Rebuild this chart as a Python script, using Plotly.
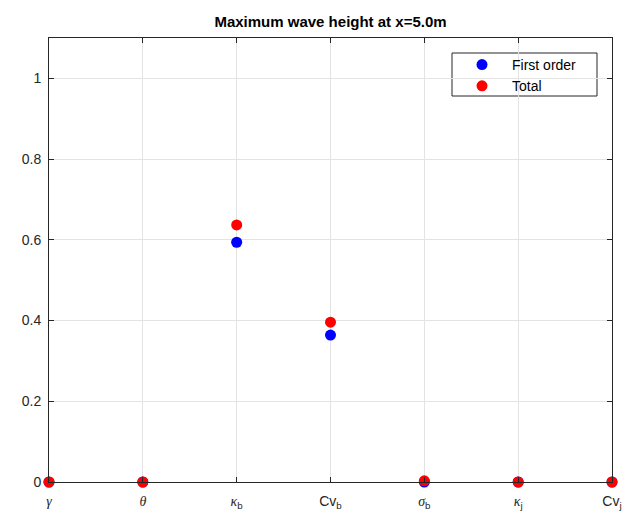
import plotly.graph_objects as go

G = '<span style="font-family:Liberation Serif, Times New Roman, serif"><i>{}</i></span>'
params = [G.format("γ"), G.format("θ"), G.format("κ") + "<sub>b</sub>", "Cv<sub>b</sub>",
          G.format("σ") + "<sub>b</sub>", G.format("κ") + "<sub>j</sub>", "Cv<sub>j</sub>"]
first_order = [0.0, 0.0, 0.594, 0.364, 0.0, 0.0, 0.0]
total = [0.0, 0.0, 0.637, 0.396, 0.003, 0.0, 0.0]
yticks = [0, 0.2, 0.4, 0.6, 0.8, 1]
ylabels = ["0", "0.2", "0.4", "0.6", "0.8", "1"]
xpos = list(range(1, len(params) + 1))

fig = go.Figure()
fig.add_trace(go.Scatter(x=xpos, y=first_order, mode="markers", name="First order",
                         marker=dict(color="#0000ff", size=11), cliponaxis=False))
fig.add_trace(go.Scatter(x=xpos, y=total, mode="markers", name="Total",
                         marker=dict(color="#ff0000", size=11), cliponaxis=False))

axis_common = dict(showline=True, linecolor="#262626", linewidth=1, mirror="ticks",
                   ticks="inside", ticklen=5, tickcolor="#262626",
                   showgrid=True, gridcolor="#e3e3e3", gridwidth=1, zeroline=False,
                   tickfont=dict(family="Liberation Sans, Arial", size=14, color="#262626"))

# plot area in page pixels: x 49..612, y 38..482 (page body adds 8px offset)
PL, PR, PT, PB = 49, 612, 38, 482
pw, ph = PR - PL, PB - PT

def px_x(x):
    return (x - PL) / pw

def px_y(y):
    return (PB - y) / ph

fig.update_layout(
    width=636, height=518,
    margin=dict(l=41, r=32, t=30, b=44),
    paper_bgcolor="white", plot_bgcolor="white",
    title=dict(text="<b>Maximum wave height at x=5.0m</b>", x=(PL + PR) / 2 / 636 - 8 / 636,
               xanchor="center", y=1 - 14 / 518, yanchor="middle",
               font=dict(family="Liberation Sans, Arial", size=15, color="black")),
    xaxis=dict(range=[1, 7], tickvals=xpos, ticktext=params, ticklabelstandoff=6, **axis_common),
    yaxis=dict(range=[0, 1.1], tickvals=yticks, ticktext=ylabels, ticklabelstandoff=4,
               **axis_common),
    legend=dict(x=px_x(452), y=px_y(49), xanchor="left", yanchor="top",
                borderwidth=0, bgcolor="rgba(0,0,0,0)",
                font=dict(family="Liberation Sans, Arial", size=14, color="black"),
                itemwidth=50, entrywidth=100, tracegroupgap=0),
    shapes=[dict(type="rect", xref="paper", yref="paper",
                 x0=px_x(452), x1=px_x(597), y0=px_y(96), y1=px_y(53),
                 line=dict(color="#262626", width=1), fillcolor="white", layer="below")],
    showlegend=True,
)

fig.write_html("out.html")
